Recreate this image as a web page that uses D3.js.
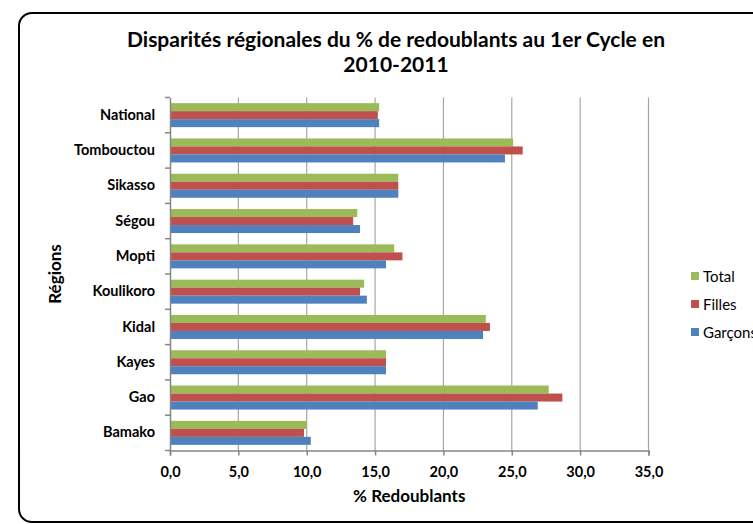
<!DOCTYPE html>
<html>
<head>
<meta charset="utf-8">
<script src="https://cdn.jsdelivr.net/npm/d3@7"></script>
<style>
  body { margin: 0; background: #fff; }
  svg { display: block; font-family: Lato, "Open Sans", sans-serif; }
</style>
</head>
<body>
<svg id="chart"></svg>
<script>
// données
const regions = ["National", "Tombouctou", "Sikasso", "Ségou", "Mopti", "Koulikoro", "Kidal", "Kayes", "Gao", "Bamako"];
const total   = [15.3, 25.1, 16.7, 13.7, 16.4, 14.2, 23.1, 15.8, 27.7, 10.0];
const filles  = [15.2, 25.8, 16.7, 13.4, 17.0, 13.9, 23.4, 15.8, 28.7, 9.8];
const garcons = [15.3, 24.5, 16.7, 13.9, 15.8, 14.4, 22.9, 15.8, 26.9, 10.3];
const xTicks = [0, 5, 10, 15, 20, 25, 30, 35];
const seriesNames = ["Total", "Filles", "Garçons"];
const colors = ["#9BBB59", "#C0504D", "#4F81BD"];

const width = 753, height = 524;
const margin = { top: 97.5, right: 104.5, bottom: 73.5, left: 170 };
const w = width - margin.left - margin.right;
const h = height - margin.top - margin.bottom;

const svg = d3.select("#chart").attr("width", width).attr("height", height);

// cadre arrondi
svg.append("rect")
    .attr("x", 19).attr("y", 13)
    .attr("width", 760).attr("height", 509)
    .attr("rx", 13)
    .attr("fill", "none")
    .attr("stroke", "#000")
    .attr("stroke-width", 2);

svg.append("text")
    .attr("x", 396).attr("y", 47)
    .attr("text-anchor", "middle")
    .attr("font-size", 21).attr("font-weight", "bold")
    .text("Disparités régionales du % de redoublants au 1er Cycle en");
svg.append("text")
    .attr("x", 396).attr("y", 72)
    .attr("text-anchor", "middle")
    .attr("font-size", 21).attr("font-weight", "bold")
    .text("2010-2011");

const g = svg.append("g").attr("transform", `translate(${margin.left},${margin.top})`);

const x = d3.scaleLinear().domain([0, 35]).range([0, w]);
const y = d3.scaleBand().domain(regions).range([0, h]).paddingInner(0.32).paddingOuter(0.16);
const ySub = d3.scaleBand().domain(seriesNames).range([0, y.bandwidth()]);

// grille
g.append("g").selectAll("line")
    .data(xTicks.slice(1))
    .join("line")
    .attr("x1", d => x(d)).attr("x2", d => x(d))
    .attr("y1", 0).attr("y2", h)
    .attr("stroke", "#a6a6a6").attr("stroke-width", 1.2);

const rows = regions.map((r, i) => ({ region: r, values: [total[i], filles[i], garcons[i]] }));

g.append("g").selectAll("g")
    .data(rows)
    .join("g")
    .attr("transform", d => `translate(0,${y(d.region)})`)
    .selectAll("rect")
    .data(d => d.values.map((v, j) => ({ name: seriesNames[j], value: v, color: colors[j] })))
    .join("rect")
    .attr("x", 0)
    .attr("y", d => ySub(d.name))
    .attr("width", d => x(d.value))
    .attr("height", ySub.bandwidth())
    .attr("fill", d => d.color);

// axe x
const xAxis = g.append("g")
    .attr("transform", `translate(0,${h})`)
    .call(d3.axisBottom(x).tickValues(xTicks).tickSize(5).tickPadding(11)
        .tickFormat(d => d3.format(".1f")(d).replace(".", ",")));
xAxis.select(".domain").attr("stroke", "#868686").attr("stroke-width", 1.5);
xAxis.selectAll(".tick line").attr("stroke", "#868686").attr("stroke-width", 1.5);
xAxis.selectAll("text").attr("font-size", 14.5).attr("font-weight", "bold")
    .attr("fill", "#000").attr("font-family", "Lato, sans-serif");

// axe y
const yAxis = g.append("g")
    .call(d3.axisLeft(y).tickSize(0).tickPadding(15));
yAxis.select(".domain").attr("stroke", "#868686").attr("stroke-width", 1.5);
yAxis.selectAll("text").attr("font-size", 14.5).attr("font-weight", "bold")
    .attr("fill", "#000").attr("font-family", "Lato, sans-serif");
// graduations entre catégories
const step = h / regions.length;
yAxis.append("g").selectAll("line")
    .data(d3.range(regions.length + 1))
    .join("line")
    .attr("x1", -5).attr("x2", 0)
    .attr("y1", d => d * step).attr("y2", d => d * step)
    .attr("stroke", "#868686").attr("stroke-width", 1.5);

svg.append("text")
    .attr("x", margin.left + w / 2).attr("y", 502)
    .attr("text-anchor", "middle")
    .attr("font-size", 17).attr("font-weight", "bold")
    .text("% Redoublants");

svg.append("text")
    .attr("transform", `translate(61,${margin.top + h / 2}) rotate(-90)`)
    .attr("text-anchor", "middle")
    .attr("font-size", 17).attr("font-weight", "bold")
    .text("Régions");

// légende
const legend = svg.append("g").attr("transform", "translate(691,276)");
seriesNames.forEach((name, i) => {
    const item = legend.append("g").attr("transform", `translate(0,${i * 28})`);
    item.append("rect").attr("x", 0).attr("y", -4).attr("width", 8).attr("height", 8).attr("fill", colors[i]);
    item.append("text").attr("x", 12).attr("y", 5.5)
        .attr("font-size", 15).text(name);
});
</script>
</body>
</html>
